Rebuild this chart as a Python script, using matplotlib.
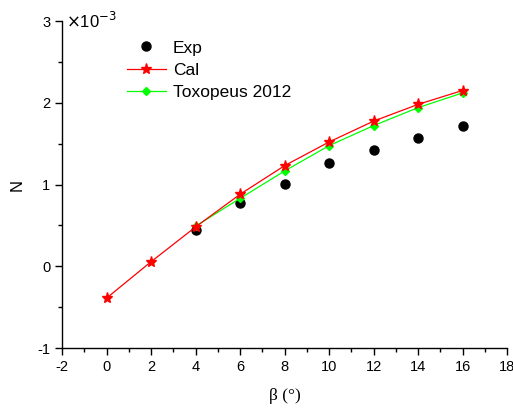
import numpy as np
import matplotlib
matplotlib.use('Agg')
import matplotlib.pyplot as plt
from matplotlib.ticker import MultipleLocator

plt.rcParams['font.family'] = ['Liberation Sans', 'DejaVu Sans']
plt.rcParams['axes.unicode_minus'] = False

# data (N in units of 1e-3)
beta_exp = [4, 6, 8, 10, 12, 14, 16]
n_exp = [0.44, 0.77, 1.01, 1.26, 1.425, 1.57, 1.72]
beta_cal = [0, 2, 4, 6, 8, 10, 12, 14, 16]
n_cal = [-0.39, 0.055, 0.48, 0.88, 1.23, 1.52, 1.775, 1.98, 2.15]
beta_tox = [4, 6, 8, 10, 12, 14, 16]
n_tox = [0.49, 0.83, 1.165, 1.475, 1.72, 1.94, 2.12]

fig = plt.figure(figsize=(5.13, 4.12), dpi=100)
ax = fig.add_axes([0.1209, 0.1553, 0.8674, 0.7937])

ax.plot(beta_exp, n_exp, ls='none', marker='o', color='k', ms=6.5, label='Exp')
ax.plot(beta_cal, n_cal, color='red', lw=0.9, marker='*', ms=8, label='Cal', zorder=3)
ax.plot(beta_tox, n_tox, color='#00ff00', lw=0.9, marker='D', ms=4.5, label='Toxopeus 2012', zorder=2)

ax.set_xlim(-2, 18)
ax.set_ylim(-1, 3)
ax.xaxis.set_major_locator(MultipleLocator(2))
ax.xaxis.set_minor_locator(MultipleLocator(1))
ax.yaxis.set_major_locator(MultipleLocator(1))
ax.yaxis.set_minor_locator(MultipleLocator(0.5))
for s in ('top', 'right'):
    ax.spines[s].set_visible(False)
for s in ('left', 'bottom'):
    ax.spines[s].set_linewidth(1.0)
ax.tick_params(which='both', direction='out', labelsize=10.5, width=1.0)
ax.tick_params(which='major', length=5)
ax.tick_params(which='minor', length=3)

ax.text(0.01, 1.0, r'$\times$10$^{-3}$', transform=ax.transAxes, ha='left', va='center', fontsize=12)

ax.set_ylabel('N', fontsize=12, labelpad=9)
ax.set_xlabel('β (°)', fontsize=12.5, family=['Liberation Serif', 'DejaVu Serif'], labelpad=10)

ax.legend(loc='upper left', bbox_to_anchor=(0.130, 0.962), frameon=False, fontsize=12.5,
          handlelength=2.25, handletextpad=0.4, labelspacing=0.4, borderaxespad=0)

fig.savefig('out.png', dpi=100)
